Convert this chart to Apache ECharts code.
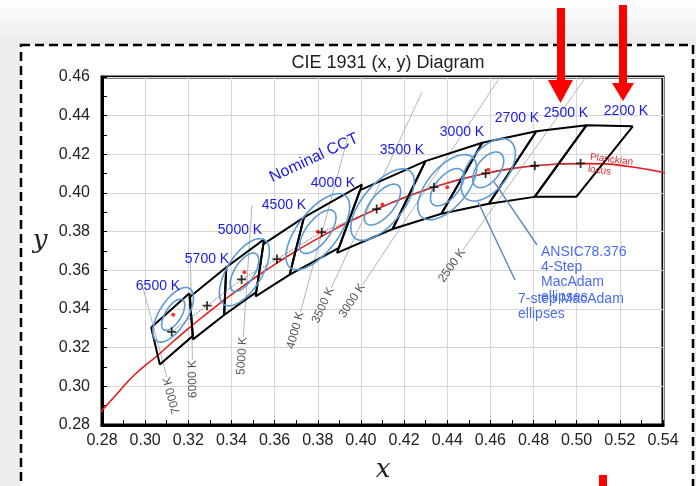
<!DOCTYPE html>
<html>
<head>
<meta charset="utf-8">
<script src="https://cdn.jsdelivr.net/npm/echarts@6/dist/echarts.min.js"></script>
<style>
html, body { margin: 0; padding: 0; background: #fff; }
#main { width: 696px; height: 486px; }
</style>
</head>
<body>
<div id="main"></div>
<script>
// Planckian locus (x, y)
var locus = [
	[0.2758, 0.2820], [0.2807, 0.2884], [0.2867, 0.2958], [0.2951, 0.3060], [0.3064, 0.3166],
	[0.3135, 0.3237], [0.3221, 0.3318], [0.3325, 0.3411], [0.3451, 0.3516], [0.3608, 0.3636],
	[0.3805, 0.3768], [0.4053, 0.3907], [0.4369, 0.4041], [0.4599, 0.4106], [0.4770, 0.4137],
	[0.5046, 0.4152], [0.5267, 0.4133], [0.5496, 0.4081]
];

// ANSI C78.377 quadrangles
var cctNames = ['6500 K', '5700 K', '5000 K', '4500 K', '4000 K', '3500 K', '3000 K', '2700 K', '2500 K', '2200 K'];
var quadCorners = [
	[[0.3205, 0.3481], [0.3028, 0.3304], [0.3068, 0.3113], [0.3221, 0.3261]],
	[[0.3376, 0.3616], [0.3207, 0.3462], [0.3222, 0.3243], [0.3366, 0.3369]],
	[[0.3551, 0.3760], [0.3376, 0.3616], [0.3366, 0.3369], [0.3515, 0.3487]],
	[[0.3736, 0.3874], [0.3548, 0.3736], [0.3512, 0.3465], [0.3670, 0.3578]],
	[[0.4006, 0.4044], [0.3736, 0.3874], [0.3670, 0.3578], [0.3898, 0.3716]],
	[[0.4299, 0.4165], [0.3996, 0.4015], [0.3889, 0.3690], [0.4147, 0.3814]],
	[[0.4562, 0.4260], [0.4299, 0.4165], [0.4147, 0.3814], [0.4373, 0.3893]],
	[[0.4813, 0.4319], [0.4562, 0.4260], [0.4373, 0.3893], [0.4593, 0.3944]],
	[[0.5045, 0.4350], [0.4813, 0.4319], [0.4593, 0.3944], [0.4805, 0.3980]],
	[[0.5260, 0.4345], [0.5045, 0.4350], [0.4805, 0.3980], [0.4998, 0.3980]]
];
var quadCenters = [
	[0.3123, 0.3282], [0.3287, 0.3417], [0.3447, 0.3553], [0.3611, 0.3658], [0.3818, 0.3797],
	[0.4073, 0.3917], [0.4338, 0.4030], [0.4578, 0.4101], [0.4806, 0.4141], [0.5018, 0.4153]
];

// ANSI C78.376 MacAdam ellipses: centre, 1-step a, b, angle (deg)
var ellipseCenters = [[0.313, 0.337], [0.346, 0.359], [0.380, 0.380], [0.410, 0.394], [0.440, 0.403], [0.459, 0.412]];
var ellipseA = [0.00223, 0.00274, 0.00323, 0.00308, 0.00278, 0.00258];
var ellipseB = [0.00095, 0.00118, 0.00139, 0.00138, 0.00136, 0.00137];
var ellipseAngle = [62, 62, 57, 55, 55, 58];
var ellipseSteps = [4, 7];

// isotherm guide lines [top, bottom]
var isoNames = ['7000 K', '6000 K', '5000 K', '4000 K', '3500 K', '3000 K', '2500 K'];
var isoLines = [
	[[0.2990, 0.3509], [0.3101, 0.3048]],
	[[0.3210, 0.3643], [0.3219, 0.3136]],
	[[0.3495, 0.3938], [0.3455, 0.3255]],
	[[0.3940, 0.4290], [0.3720, 0.3385]],
	[[0.4283, 0.4522], [0.3862, 0.3508]],
	[[0.4645, 0.4600], [0.4008, 0.3525]],
	[[0.5043, 0.4600], [0.4473, 0.3705]]
];

// callout leaders
var calloutLines = [
	[[0.4617, 0.4057], [0.4816, 0.3731]],
	[[0.4543, 0.3953], [0.4714, 0.3550]]
];

var xTicks = { min: 0.28, max: 0.54, step: 0.02 };
var yTicks = { min: 0.28, max: 0.46, step: 0.02 };

function ellipseItem(params, api) {
	var cx = api.value(0), cy = api.value(1), a = api.value(2), b = api.value(3);
	var t = api.value(4) * Math.PI / 180;
	var pts = [];
	for (var i = 0; i <= 90; i++) {
		var s = i / 90 * Math.PI * 2;
		var dx = a * Math.cos(s) * Math.cos(t) - b * Math.sin(s) * Math.sin(t);
		var dy = a * Math.cos(s) * Math.sin(t) + b * Math.sin(s) * Math.cos(t);
		pts.push(api.coord([cx + dx, cy + dy]));
	}
	return {
		type: 'polyline',
		shape: { points: pts },
		style: { stroke: '#5b9bd5', lineWidth: 1.6, fill: null }
	};
}

function display() {
	var myChart = echarts.init(document.getElementById('main'));
	var font = 'Liberation Sans, Arial, sans-serif';

	var series = [];
	isoLines.forEach(function(l) {
		series.push({
			type: 'line', data: l, symbol: 'none', silent: true, z: 1,
			lineStyle: { color: '#b4b4b4', width: 1 }
		});
	});
	series.push({
		type: 'line', data: locus, smooth: true, symbol: 'none', z: 3,
		lineStyle: { color: '#e41a1a', width: 1.6 }
	});
	quadCorners.forEach(function(q) {
		series.push({
			type: 'line', data: q.concat([q[0]]), symbol: 'none', z: 4,
			lineStyle: { color: '#000', width: 2 }
		});
	});
	series.push({
		type: 'line', data: quadCenters, symbol: 'none', z: 4,
		lineStyle: { color: '#666', width: 1, type: 'dotted' }
	});
	var ellData = [];
	ellipseSteps.forEach(function(st) {
		ellipseCenters.forEach(function(c, i) {
			ellData.push([c[0], c[1], ellipseA[i] * st, ellipseB[i] * st, ellipseAngle[i]]);
		});
	});
	series.push({
		type: 'custom', renderItem: ellipseItem, data: ellData, z: 5,
		encode: { x: 0, y: 1 }
	});
	calloutLines.forEach(function(l) {
		series.push({
			type: 'line', data: l, symbol: 'none', z: 5, clip: false,
			lineStyle: { color: '#5b86c5', width: 1.4 }
		});
	});
	series.push({
		type: 'scatter', data: quadCenters, z: 6,
		symbol: 'path://M4,0H6V4H10V6H6V10H4V6H0V4H4Z', symbolSize: 9,
		itemStyle: { color: '#000' }
	});
	series.push({
		type: 'scatter', data: ellipseCenters, z: 6,
		symbol: 'circle', symbolSize: 4,
		itemStyle: { color: '#ff0000' }
	});

	var axisCommon = {
		type: 'value',
		axisLine: { show: true, onZero: false, lineStyle: { color: '#000', width: 3 } },
		axisTick: { show: true, inside: true, length: 5, lineStyle: { color: '#000', width: 1 } },
		minorTick: { show: true, splitNumber: 2, length: 5, lineStyle: { color: '#000', width: 1 } },
		splitLine: { show: true, lineStyle: { color: '#d6d6d6', width: 1 } },
		axisLabel: { formatter: function(v) { return v.toFixed(2); }, fontSize: 16, color: '#222', fontFamily: font }
	};

	var option = {
		animation: false,
		grid: { left: 102, top: 77, right: 33, bottom: 61, show: true, borderColor: '#000', borderWidth: 3 },
		xAxis: echarts.util.merge({ min: xTicks.min, max: xTicks.max, interval: xTicks.step, axisLabel: { margin: 8 } }, axisCommon, false),
		yAxis: echarts.util.merge({ min: yTicks.min, max: yTicks.max, interval: yTicks.step, axisLabel: { margin: 12 } }, axisCommon, false),
		series: series
	};
	myChart.setOption(option);

	// annotations
	var g = [];
	g.push({ type: 'rect', z: -100, shape: { x: 0, y: 0, width: 696, height: 486 }, style: { fill: '#eeeeee' } });
	g.push({ type: 'rect', z: -99, shape: { x: 0, y: 0, width: 696, height: 44 },
		style: { fill: new echarts.graphic.LinearGradient(0, 0, 0, 1, [{ offset: 0, color: '#ffffff' }, { offset: 1, color: '#ebebeb' }]) } });
	g.push({ type: 'rect', z: -98, shape: { x: 21, y: 45, width: 672, height: 470 },
		style: { fill: '#fff', stroke: '#000', lineWidth: 2.5, lineDash: [9, 5] } });

	g.push({ type: 'text', x: 388, y: 63, style: { text: 'CIE 1931 (x, y) Diagram', font: '18px ' + font, fill: '#222', align: 'center', verticalAlign: 'middle' } });
	g.push({ type: 'text', x: 383, y: 470, style: { text: 'x', font: 'italic 26px "DejaVu Serif", "Liberation Serif", serif', fill: '#222', align: 'center', verticalAlign: 'middle' } });
	g.push({ type: 'text', x: 40, y: 241, style: { text: 'y', font: 'italic 26px "DejaVu Serif", "Liberation Serif", serif', fill: '#222', align: 'center', verticalAlign: 'middle' } });

	// CCT labels above the quadrangles
	var cctLabelPx = [[158, 286], [207, 259], [240, 230], [284, 205], [333, 183], [402, 150], [462, 132], [517, 118], [566, 113], [626, 111]];
	cctNames.forEach(function(n, i) {
		g.push({ type: 'text', z: 10, x: cctLabelPx[i][0], y: cctLabelPx[i][1],
			style: { text: n, font: '14px ' + font, fill: '#1a1ae6', align: 'center', verticalAlign: 'middle' } });
	});
	g.push({ type: 'text', z: 10, x: 314, y: 158, rotation: 25 * Math.PI / 180,
		style: { text: 'Nominal CCT', font: '16px ' + font, fill: '#1a1ae6', align: 'center', verticalAlign: 'middle' } });

	// isotherm labels along the lines
	isoLines.forEach(function(l, i) {
		var pTop = myChart.convertToPixel('grid', l[0]);
		var pBot = myChart.convertToPixel('grid', l[1]);
		var ang = Math.atan2(pBot[1] - pTop[1], pTop[0] - pBot[0]);
		g.push({ type: 'text', z: 10, x: pBot[0], y: pBot[1], rotation: ang,
			style: { text: isoNames[i], font: '12px ' + font, fill: '#555', align: 'right', verticalAlign: 'middle' } });
	});

	// callout text
	var blue = '#4a6cf0';
	['ANSIC78.376', '4-Step', 'MacAdam', 'ellipses'].forEach(function(t, i) {
		g.push({ type: 'text', z: 10, x: 541, y: 252 + i * 15, style: { text: t, font: '14px ' + font, fill: blue, verticalAlign: 'middle' } });
	});
	['7-step MacAdam', 'ellipses'].forEach(function(t, i) {
		g.push({ type: 'text', z: 11, x: 518, y: 299 + i * 15, style: { text: t, font: '14px ' + font, fill: blue, verticalAlign: 'middle' } });
	});
	g.push({ type: 'text', z: 10, x: 590, y: 157, rotation: -7 * Math.PI / 180,
		style: { text: 'Planckian', font: '10px ' + font, fill: '#d42a2a', verticalAlign: 'middle' } });
	g.push({ type: 'text', z: 10, x: 588, y: 169, rotation: -7 * Math.PI / 180,
		style: { text: 'locus', font: '10px ' + font, fill: '#d42a2a', verticalAlign: 'middle' } });

	// red arrows
	g.push({ type: 'rect', z: 20, shape: { x: 557, y: 8, width: 8, height: 74 }, style: { fill: '#ff0000' } });
	g.push({ type: 'polygon', z: 20, shape: { points: [[548, 80], [573, 80], [560.5, 103]] }, style: { fill: '#ff0000' } });
	g.push({ type: 'rect', z: 20, shape: { x: 619, y: 5, width: 8, height: 80 }, style: { fill: '#ff0000' } });
	g.push({ type: 'polygon', z: 20, shape: { points: [[612, 83], [634, 83], [623, 101]] }, style: { fill: '#ff0000' } });
	g.push({ type: 'rect', z: 20, shape: { x: 599, y: 475, width: 8, height: 12 }, style: { fill: '#ff0000' } });

	myChart.setOption({ graphic: { elements: g } });
}

display();
</script>
</body>
</html>
